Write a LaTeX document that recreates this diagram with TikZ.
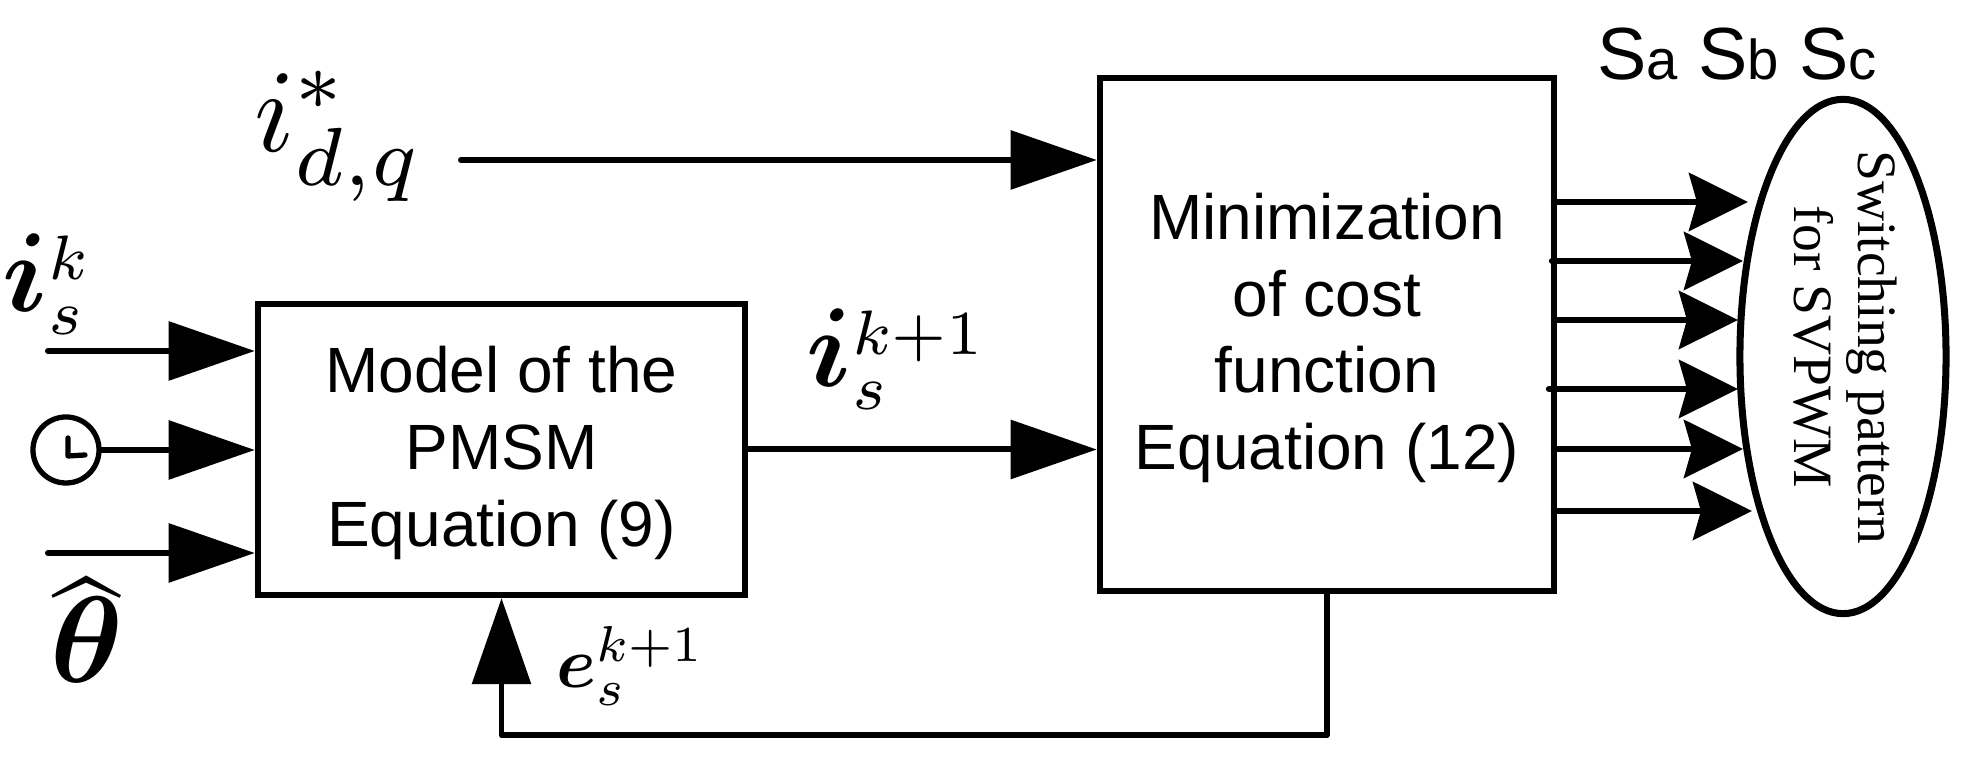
\documentclass[tikz,border=0pt]{standalone}
\usepackage{amsmath,amssymb,bm}
\usepackage{fontspec}
\setmainfont{Liberation Sans}
\newfontfamily\serifpat{Liberation Serif}
\usetikzlibrary{positioning,arrows.meta,shapes.geometric}
\newcommand{\bigi}{\smash{\scalebox{1.25}{$\bm{i}$}}}
\tikzset{
  blockbox/.style={draw,line width=1.75pt,align=center,font=\fontsize{18.2}{21.8}\selectfont,inner sep=0pt},
  sigarrow/.style={line width=1.7pt,line cap=round,line join=round,-{Triangle[length=0.86cm,width=0.58cm]}},
  patarrow/.style={line width=1.8pt,line cap=round,-{Stealth[length=0.59cm,width=0.58cm,inset=0.08cm]}},
  siglabel/.style={inner sep=0pt,anchor=base},
}
\begin{document}
\begin{tikzpicture}[x=0.01cm,y=-0.01cm]
\useasboundingbox (0,0) rectangle (1965,765);
% blocks
\node[blockbox,minimum width=4.87cm,minimum height=2.91cm] (model) at (501.5,449.5) {\rule{0pt}{15.2pt}Model of the\\PMSM\\Equation (9)};
\node[blockbox,minimum width=4.54cm,minimum height=5.13cm] (cost) at (1327,334.5) {\rule{0pt}{15.2pt}Minimization\\of cost\\function\\Equation (12)};
\node[draw,ellipse,line width=2pt,minimum width=2.06cm,minimum height=5.14cm,inner sep=0pt] (pattern) at (1843,356.5) {};
\node[rotate=-90,align=center,inner sep=0pt,font=\serifpat\fontsize{15.8}{18.2}\selectfont] (patterntext) at (1845,347) {Switching pattern\\for SVPWM};
% inputs of the model
\coordinate (iskin) at (48,351);
\coordinate (thetain) at (48,553);
\coordinate (idqin) at (461,160);
\node[draw,circle,line width=1.5pt,minimum size=0.66cm,inner sep=0pt] (clock) at (66,450) {};
\draw[line width=1.5pt,line cap=round,line join=round] (68,438) -- (68,456) -- (85,455);
\draw[sigarrow] (iskin) -- (iskin -| model.west);
\draw[sigarrow] (clock) -- (clock -| model.west);
\draw[sigarrow] (thetain) -- (thetain -| model.west);
% to the cost function
\draw[sigarrow] (idqin) -- (idqin -| cost.west);
\draw[sigarrow] (model) -- (model -| cost.west);
\draw[sigarrow] (cost.south) -- ++(0,141) -| (model.south);
% switching lines
\foreach \y/\tip/\start in {202/1748/1554,261/1743/1552,320/1738/1554,389/1738/1549,449/1743/1554,511/1752/1554}
  \draw[patarrow] (\start,\y) -- (\tip,\y);
% labels
\node[siglabel,scale=3.35] (idq) at (339,152) {$i_{d,q}^{*}$};
\node[siglabel,scale=2.55] (isk) at (47.5,312) {$\bigi_{s}^{k}$};
\node[siglabel,scale=3.5] (thetahat) at (87,683) {$\widehat{\raisebox{0pt}[.56em]{$\bm{\theta}$}}$};
\node[siglabel,scale=2.55] (iskone) at (897,387) {$\bigi_{s}^{k+1}$};
\node[siglabel,scale=2.05] (esk) at (631,688) {$\bm{e}_{s}^{k+1}$};
\node[siglabel,font=\fontsize{21}{21}\selectfont] (switches) at (1737,80) {S{\fontsize{16}{16}\selectfont a} S{\fontsize{16}{16}\selectfont b} S{\fontsize{16}{16}\selectfont c}};
\end{tikzpicture}
\end{document}
